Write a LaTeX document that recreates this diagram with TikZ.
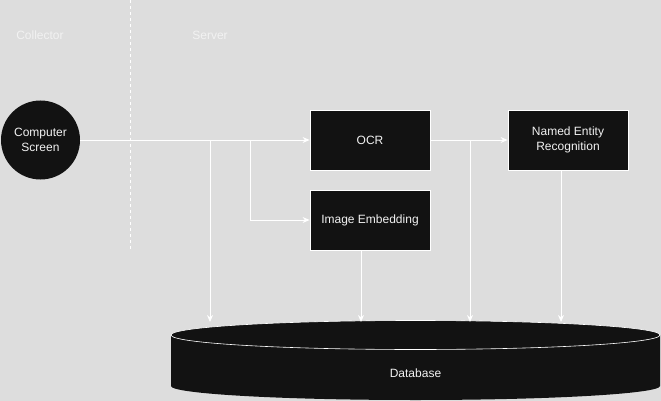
\documentclass[tikz,border=0pt]{standalone}
\usepackage{fontspec}
\setmainfont{Liberation Sans}
\usetikzlibrary{arrows.meta,positioning}
\definecolor{bggray}{HTML}{DDDDDD}
\definecolor{boxblack}{HTML}{121212}
\definecolor{txtwhite}{HTML}{F2F2F2}

\begin{document}
\begin{tikzpicture}[x=1pt, y=-1pt, node distance=80pt, on grid,
    font=\fontsize{12}{14.5}\selectfont,
    proc/.style={rectangle, draw=white, line width=0.8pt, fill=boxblack, text=txtwhite, minimum width=120pt, minimum height=60pt, align=center, inner sep=0pt},
    src/.style={circle, fill=boxblack, text=txtwhite, minimum size=79pt, align=center, inner sep=0pt},
    zone/.style={text=txtwhite},
    flow/.style={draw=white, line width=0.8pt, -{Stealth[length=7pt,width=6pt]}}]
  \fill[bggray] (0,0) rectangle (661,401);
  \useasboundingbox (0,0) rectangle (661,401);
  % lanes
  \draw[white, line width=0.6pt, dash pattern=on 3pt off 3pt] (130,0) -- (130,250);
  \node (collector) [zone] at (40,35) {Collector};
  \node (server) [zone] at (210,35) {Server};
  % steps
  \node (cs) [src] at (40.5,140) {Computer\\Screen};
  \node (ocr) [proc] at (370,140) {OCR};
  \node (ie) [proc] [below=of ocr] {Image Embedding};
  \node (ner) [proc] [right=198pt of ocr] {Named Entity\\Recognition};
  % database
  \fill[boxblack] (171,335) -- (171,386)
    arc[start angle=180, end angle=360, x radius=244.5pt, y radius=14pt]
    -- (660,335)
    arc[start angle=0, end angle=180, x radius=244.5pt, y radius=14.5pt] -- cycle;
  \draw[white, line width=0.6pt] (171,335)
    arc[start angle=180, end angle=360, x radius=244.5pt, y radius=14.5pt]
    arc[start angle=0, end angle=180, x radius=244.5pt, y radius=14.5pt];
  \node (db) [text=txtwhite] at (415.5,373) {Database};
  \coordinate (dbtop) at (415.5,322);
  % branch points
  \coordinate (b1) at (210,140);
  \coordinate (b2) at (250,140);
  \coordinate (b3) at (470,140);
  % flows
  \draw[flow] (cs) -- (ocr);
  \draw[flow] (b2) |- (ie);
  \draw[flow] (ocr) -- (ner);
  \draw[flow] (b1) -- (b1 |- dbtop);
  \draw[flow] (b3) -- (b3 |- dbtop);
  \draw[flow] ([xshift=-9pt]ie.south) -- ([xshift=-9pt]ie.south |- dbtop);
  \draw[flow] ([xshift=-7pt]ner.south) -- ([xshift=-7pt]ner.south |- dbtop);
\end{tikzpicture}
\end{document}
